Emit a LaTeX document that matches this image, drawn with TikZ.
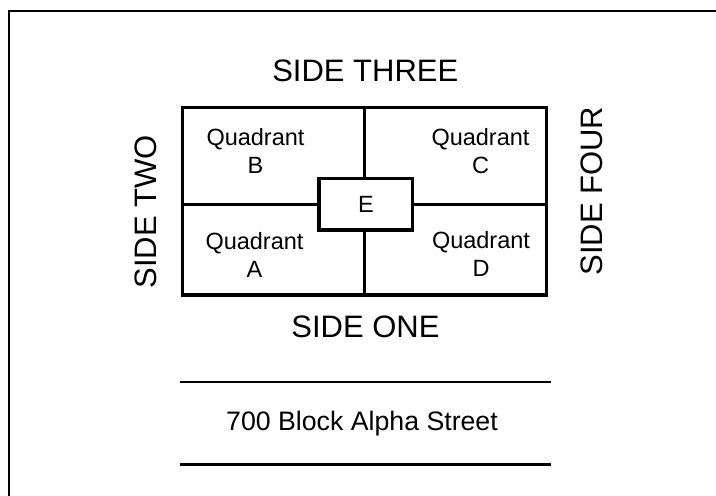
\documentclass[tikz,border=0pt]{standalone}
\usepackage{fontspec}
\setmainfont{Liberation Sans}
\begin{document}
\begin{tikzpicture}[x=1pt,y=-1pt,
  sidelabel/.style={inner sep=0pt,font=\fontsize{31}{36}\selectfont},
  quadlabel/.style={inner sep=0pt,align=center,font=\fontsize{23.5}{28}\selectfont},
  streetlabel/.style={inner sep=0pt,font=\fontsize{26.7}{31}\selectfont},
  thickline/.style={line width=3.3pt},
  streetline/.style={line width=2.8pt},
  frameline/.style={line width=2.2pt}]
\useasboundingbox (0,0) rectangle (716,496);

% page frame (top and left edges)
\coordinate (ftr) at (716,11);
\coordinate (ftl) at (9,11);
\coordinate (fbl) at (9,496);
\draw[frameline] (ftr) -- (ftl) -- (fbl);

% block outline
\node[draw,thickline,minimum width=364.4pt,minimum height=187.3pt,inner sep=0pt]
  (block) at (364.5,201.4) {};

% central square E
\node[draw,thickline,minimum width=93.7pt,minimum height=51.7pt,inner sep=0pt,
  font=\fontsize{23.5}{28}\selectfont] (E) at (365.9,204.2) {E};

% dividers from E out to the block edges
\draw[thickline] (E.north -| block.center) -- (block.north);
\draw[thickline] (E.south -| block.center) -- (block.south);
\draw[thickline] (E.west) -- (E.west -| block.west);
\draw[thickline] (E.east) -- (E.east -| block.east);

% quadrant labels
\node[quadlabel] (qB) at (255.5,151) {Quadrant\\B};
\node[quadlabel] (qC) at (480.5,151) {Quadrant\\C};
\node[quadlabel] (qA) at (254.5,255) {Quadrant\\A};
\node[quadlabel] (qD) at (481,253.5) {Quadrant\\D};

% side labels
\node[sidelabel] (s3) at (365.3,70.5) {SIDE THREE};
\node[sidelabel] (s1) at (365.5,327) {SIDE ONE};
\node[sidelabel,rotate=90] (s2) at (146,212) {SIDE TWO};
\node[sidelabel,rotate=90] (s4) at (592,191) {SIDE FOUR};

% street
\coordinate (st1l) at (180,382);
\coordinate (st1r) at (551,382);
\coordinate (st2l) at (180,464.7);
\coordinate (st2r) at (551,464.7);
\draw[streetline] (st1l) -- (st1r);
\draw[streetline] (st2l) -- (st2r);
\node[streetlabel,anchor=base] (street) at (362,430) {700 Block Alpha Street};
\end{tikzpicture}
\end{document}
